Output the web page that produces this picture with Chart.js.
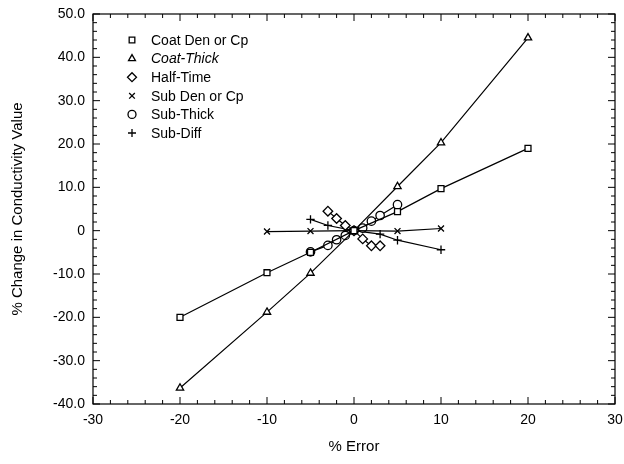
<!DOCTYPE html>
<html>
<head>
<meta charset="utf-8">
<script src="https://cdn.jsdelivr.net/npm/chart.js@4"></script>
<style>
  html, body { margin: 0; padding: 0; background: #fff; }
  #wrap { width: 624px; height: 464px; }
</style>
</head>
<body>
<div id="wrap"><canvas id="chart" width="624" height="464"></canvas></div>
<script>
// series: [% error, % change]
const coatDen   = [[-20, -20.0], [-10, -9.7], [-5, -5.0], [0, 0], [5, 4.4], [10, 9.7], [20, 19.0]];
const coatThick = [[-20, -36.3], [-10, -18.8], [-5, -9.8], [0, 0], [5, 10.2], [10, 20.3], [20, 44.5]];
const halfTime  = [[-3, 4.5], [-2, 2.8], [-1, 1.2], [0, 0], [1, -1.9], [2, -3.5], [3, -3.5]];
const subDen    = [[-10, -0.2], [-5, -0.1], [0, 0], [5, -0.1], [10, 0.5]];
const subThick  = [[-5, -4.9], [-3, -3.4], [-2, -2.1], [-1, -1.1], [0, 0], [1, 0.6], [2, 2.2], [3, 3.5], [5, 6.0]];
const subDiff   = [[-5, 2.6], [-3, 1.2], [0, 0], [3, -0.8], [5, -2.2], [10, -4.4]];

const seriesNames = ['Coat Den or Cp', 'Coat-Thick', 'Half-Time', 'Sub Den or Cp', 'Sub-Thick', 'Sub-Diff'];
const seriesData = [coatDen, coatThick, halfTime, subDen, subThick, subDiff];
const markers = ['rect', 'triangle', 'rectRot', 'crossRot', 'circle', 'cross'];

const xTicks = [-30, -20, -10, 0, 10, 20, 30];
const yTicks = [-40, -30, -20, -10, 0, 10, 20, 30, 40, 50];

const FONT = 'Liberation Sans, Arial, Helvetica, sans-serif';

const datasets = seriesData.map((s, i) => ({
    label: seriesNames[i],
    data: s.map(p => ({x: p[0], y: p[1]})),
    showLine: true,
    borderColor: '#000',
    borderWidth: 1.2,
    pointStyle: markers[i],
    pointRadius: markers[i] === 'rectRot' ? 4.8 : 4.2,
    pointBorderWidth: 1.3,
    pointBackgroundColor: '#fff',
    pointBorderColor: '#000',
    fill: false
}));

// box, inward ticks on all four sides, and the inset legend
const framePlugin = {
    id: 'frame',
    afterDraw(chart) {
        const ctx = chart.ctx;
        const a = chart.chartArea;
        const xs = chart.scales.x, ys = chart.scales.y;
        ctx.save();
        ctx.strokeStyle = '#000';
        ctx.lineWidth = 1.2;
        ctx.strokeRect(a.left, a.top, a.right - a.left, a.bottom - a.top);
        ctx.lineWidth = 1;
        ctx.beginPath();
        for (let v = -30; v <= 30; v += 2) {
            const px = xs.getPixelForValue(v);
            const len = v % 10 === 0 ? 7 : 4;
            ctx.moveTo(px, a.bottom); ctx.lineTo(px, a.bottom - len);
            ctx.moveTo(px, a.top); ctx.lineTo(px, a.top + len);
        }
        for (let v = -40; v <= 50; v += 2) {
            const py = ys.getPixelForValue(v);
            const len = v % 10 === 0 ? 7 : 4;
            ctx.moveTo(a.left, py); ctx.lineTo(a.left + len, py);
            ctx.moveTo(a.right, py); ctx.lineTo(a.right - len, py);
        }
        ctx.stroke();

        // legend
        const lx = 132, ly0 = 40, step = 18.6;
        seriesNames.forEach((name, i) => {
            const y = ly0 + i * step;
            ctx.fillStyle = '#fff';
            ctx.strokeStyle = '#000';
            ctx.lineWidth = 1.3;
            Chart.helpers.drawPoint(ctx, {
                pointStyle: markers[i],
                radius: markers[i] === 'rectRot' ? 4.5 : 4,
                rotation: 0,
                borderWidth: 1.3
            }, lx, y);
            ctx.fillStyle = '#000';
            ctx.font = (i === 1 ? 'italic ' : '') + '14px ' + FONT;
            ctx.textBaseline = 'middle';
            ctx.textAlign = 'left';
            ctx.fillText(name, 151, y + 1);
        });
        ctx.restore();
    }
};

new Chart(document.getElementById('chart').getContext('2d'), {
    type: 'scatter',
    data: { datasets: datasets },
    options: {
        responsive: false,
        animation: false,
        devicePixelRatio: 1,
        layout: { padding: { top: 14, right: 0, left: 0, bottom: 0 } },
        plugins: {
            legend: { display: false },
            tooltip: { enabled: false }
        },
        scales: {
            x: {
                type: 'linear',
                min: -30,
                max: 30,
                afterFit(scale) {
                    scale.height = 60;
                    scale.paddingLeft = 0;
                    scale.paddingRight = 9;
                },
                afterBuildTicks(scale) { scale.ticks = xTicks.map(v => ({value: v})); },
                grid: { display: false, drawTicks: false },
                border: { display: false },
                ticks: {
                    color: '#000',
                    padding: 8,
                    font: { family: FONT, size: 14 },
                    callback: v => String(v)
                },
                title: {
                    display: true,
                    text: '% Error',
                    color: '#000',
                    font: { family: FONT, size: 15 },
                    padding: { top: 0, bottom: 8 }
                }
            },
            y: {
                type: 'linear',
                min: -40,
                max: 50,
                afterFit(scale) {
                    scale.width = 93;
                    scale.paddingTop = 0;
                    scale.paddingBottom = 0;
                },
                afterBuildTicks(scale) { scale.ticks = yTicks.map(v => ({value: v})); },
                grid: { display: false, drawTicks: false },
                border: { display: false },
                ticks: {
                    color: '#000',
                    padding: 8,
                    font: { family: FONT, size: 14 },
                    callback: v => v === 0 ? '0' : v.toFixed(1)
                },
                title: {
                    display: true,
                    text: '% Change in Conductivity Value',
                    color: '#000',
                    font: { family: FONT, size: 15 },
                    padding: { top: 9, bottom: 0 }
                }
            }
        }
    },
    plugins: [framePlugin]
});
</script>
</body>
</html>
